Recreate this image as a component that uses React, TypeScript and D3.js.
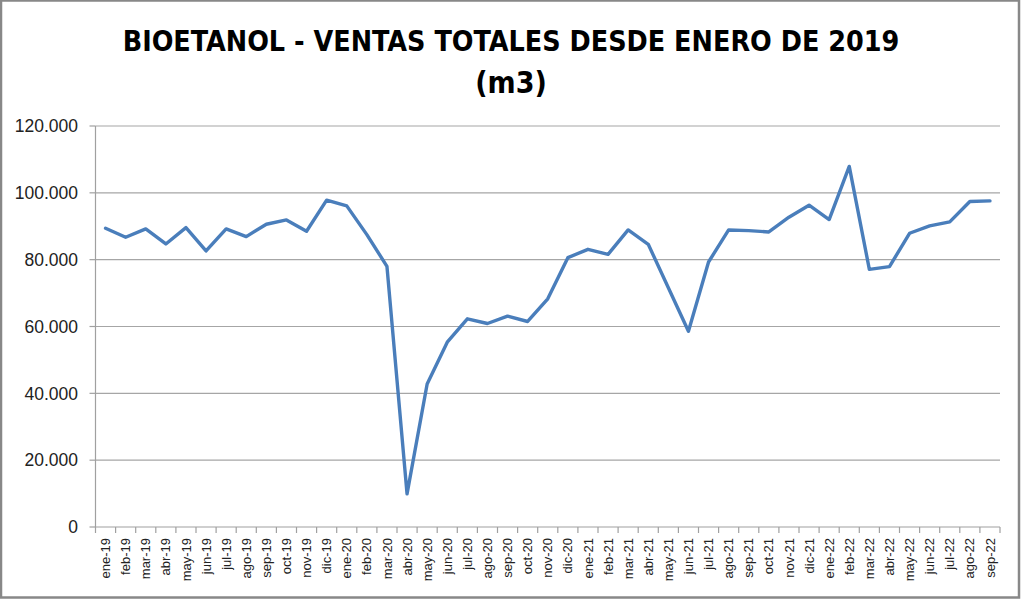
import { useEffect } from 'react';
import * as d3 from 'd3';

// monthly bioethanol sales (m3)
const months = [
  'ene-19', 'feb-19', 'mar-19', 'abr-19', 'may-19', 'jun-19', 'jul-19', 'ago-19', 'sep-19', 'oct-19', 'nov-19', 'dic-19',
  'ene-20', 'feb-20', 'mar-20', 'abr-20', 'may-20', 'jun-20', 'jul-20', 'ago-20', 'sep-20', 'oct-20', 'nov-20', 'dic-20',
  'ene-21', 'feb-21', 'mar-21', 'abr-21', 'may-21', 'jun-21', 'jul-21', 'ago-21', 'sep-21', 'oct-21', 'nov-21', 'dic-21',
  'ene-22', 'feb-22', 'mar-22', 'abr-22', 'may-22', 'jun-22', 'jul-22', 'ago-22', 'sep-22',
];

const sales = [
  89400, 86700, 89200, 84700, 89600, 82600, 89200, 86900, 90600, 91900, 88500, 97800,
  96100, 87500, 78000, 9900, 42800, 55300, 62300, 60900, 63100, 61500, 68300, 80600,
  83100, 81600, 88900, 84600, 71600, 58600, 79300, 88900, 88700, 88300, 92700, 96300,
  92000, 107900, 77100, 77900, 87900, 90100, 91300, 97400, 97600,
];

const yTicks = [0, 20000, 40000, 60000, 80000, 100000, 120000];

const titleLines = ['BIOETANOL - VENTAS TOTALES DESDE ENERO DE 2019', '(m3)'];

const W = 1022;
const H = 599;
const plot = { left: 95.5, right: 1000, top: 126, bottom: 527 };

const esFormat = d3.formatLocale({ decimal: ',', thousands: '.', grouping: [3], currency: ['', ' €'] }).format(',d');

export default function App() {
  useEffect(() => {
    document.body.style.margin = '0';
  }, []);

  const x = d3.scaleBand<string>().domain(months).range([plot.left, plot.right]).padding(0);
  const y = d3.scaleLinear().domain([0, 120000]).range([plot.bottom, plot.top]);

  const line = d3.line<number>()
    .x((_, i) => (x(months[i]) ?? 0) + x.bandwidth() / 2)
    .y(d => y(d));

  const boundaries = months.map(m => x(m) ?? 0).concat(plot.right);
  const font = '"Liberation Sans", Arial, sans-serif';
  const titleFont = '"DejaVu Sans Condensed", "Liberation Sans Narrow", sans-serif';

  return (
    <svg width={W} height={H} style={{ display: 'block', background: '#fff' }}>
      <rect x={1} y={0.5} width={1018} height={597} fill="#fff" stroke="#888" strokeWidth={2.5} />

      <text x={511} y={51} textAnchor="middle" fontFamily={titleFont}
        fontWeight="bold" fontSize={28.4} fill="#000">
        {titleLines[0]}
      </text>
      <text x={511} y={93} textAnchor="middle" fontFamily={titleFont}
        fontWeight="bold" fontSize={30} fill="#000">
        {titleLines[1]}
      </text>

      {/* grid + y labels */}
      {yTicks.map(t => (
        <g key={t}>
          {t > 0 && (
            <line x1={plot.left} x2={plot.right} y1={y(t)} y2={y(t)} stroke="#a6a6a6" strokeWidth={1.2} />
          )}
          <line x1={plot.left - 6} x2={plot.left} y1={y(t)} y2={y(t)} stroke="#a0a0a0" strokeWidth={1.2} />
          <text x={78} y={y(t)} dy="0.36em" textAnchor="end" fontFamily={font} fontSize={17.5} fill="#222">
            {esFormat(t)}
          </text>
        </g>
      ))}

      {/* axes */}
      <line x1={plot.left} x2={plot.left} y1={plot.top} y2={plot.bottom} stroke="#a0a0a0" strokeWidth={1.2} />
      <line x1={plot.left} x2={plot.right} y1={plot.bottom} y2={plot.bottom} stroke="#a0a0a0" strokeWidth={1.2} />
      {boundaries.map((b, i) => (
        <line key={i} x1={b} x2={b} y1={plot.bottom} y2={plot.bottom + 6} stroke="#a0a0a0" strokeWidth={1.2} />
      ))}
      {months.map(m => {
        const cx = (x(m) ?? 0) + x.bandwidth() / 2;
        return (
          <text key={m} transform={`translate(${cx},${plot.bottom + 11}) rotate(-90)`} dy="0.35em" textAnchor="end"
            fontFamily={font} fontSize={13} fill="#222">
            {m}
          </text>
        );
      })}

      <path d={line(sales) ?? ''} fill="none" stroke="#4a7ebb" strokeWidth={3.4} strokeLinejoin="round" strokeLinecap="round" />
    </svg>
  );
}
